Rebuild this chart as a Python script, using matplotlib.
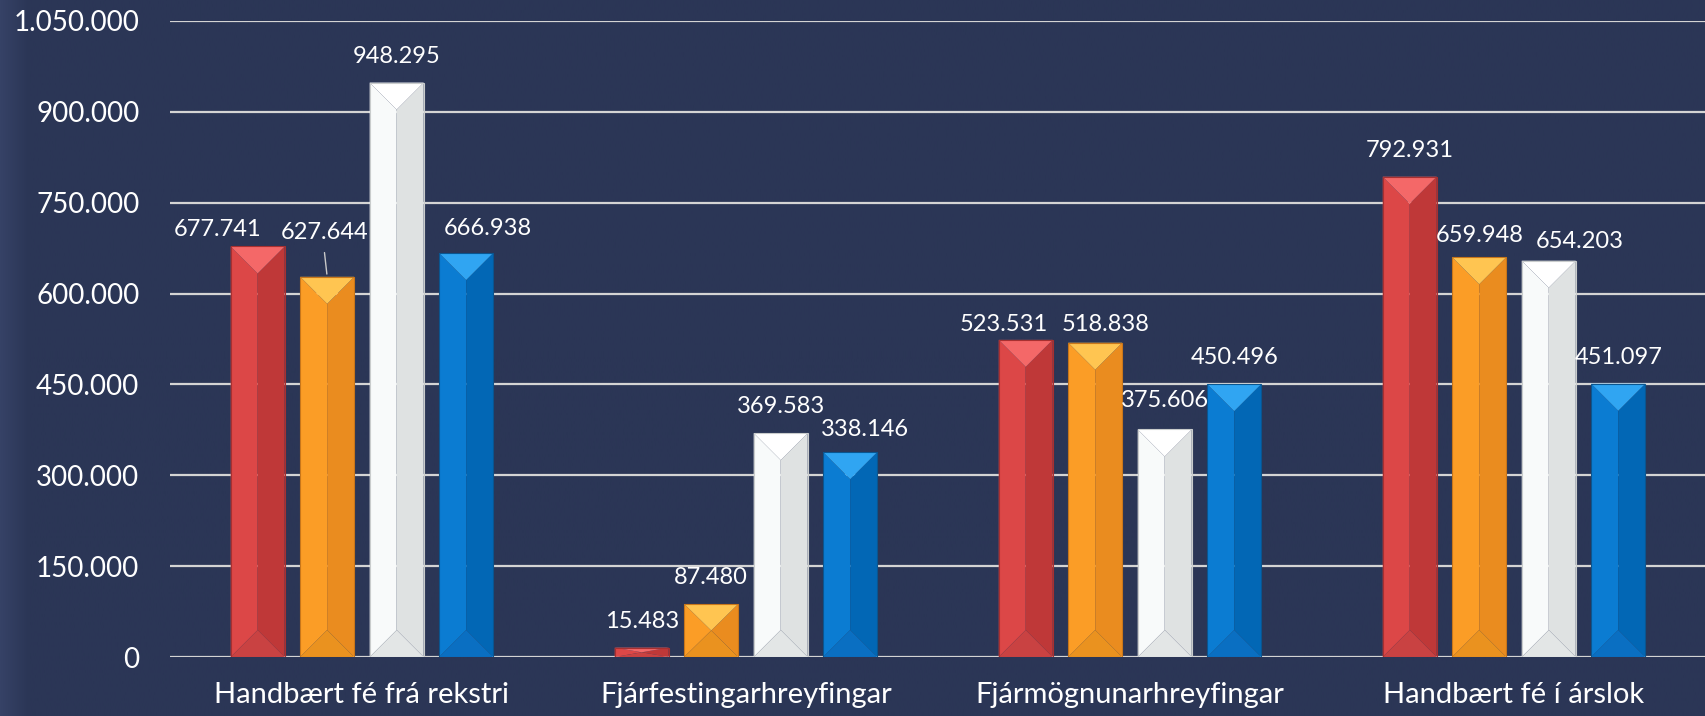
import numpy as np
import matplotlib
matplotlib.use("Agg")
import matplotlib.pyplot as plt
from matplotlib.patches import Polygon
from matplotlib.ticker import FuncFormatter

categories = ["Handbært fé frá rekstri", "Fjárfestingarhreyfingar",
              "Fjármögnunarhreyfingar", "Handbært fé í árslok"]
series_red = [677741, 15483, 523531, 792931]
series_orange = [627644, 87480, 518838, 659948]
series_white = [948295, 369583, 375606, 654203]
series_blue = [666938, 338146, 450496, 451097]
y_ticks = [0, 150000, 300000, 450000, 600000, 750000, 900000, 1050000]

BG = "#2b3656"

# face colours: (left, right, top, bottom)
palettes = [
    ("#dc4747", "#bf3838", "#f46868", "#c94242"),
    ("#fb9d26", "#ea8c1f", "#ffc551", "#ea921f"),
    ("#f8fafa", "#dfe2e2", "#ffffff", "#e3e6e6"),
    ("#0b7cd2", "#0267b5", "#30a5f2", "#0a6fc2"),
]
edges = ["#a83030", "#c8761a", "#c9cccc", "#0a558f"]

# label placement in pixels: (dx, gap above bar top) where it was moved by hand
label_px = {(0, 0): (-40, 10), (1, 0): (-3, 38), (3, 0): (22, 18),
            (3, 1): (15, 16),
            (0, 2): (-22, 9), (1, 2): (10, 12), (2, 2): (0, 22),
            (1, 3): (0, 15), (2, 3): (31, 13)}
PT = 72 / 100  # points per pixel


def fmt(v, _=None):
    return f"{int(v):,}".replace(",", ".")


def bevel(ax, patch, cols, ec):
    x0, w, h = patch.get_x(), patch.get_width(), patch.get_height()
    x1, xc = x0 + w, x0 + w / 2
    # 45 degree bevel: half bar width in pixels, expressed in y data units
    p0 = ax.transData.transform((x0, 0))
    p1 = ax.transData.transform((x1, 0))
    half_px = (p1[0] - p0[0]) / 2
    ypx = ax.transData.transform((0, 1))[1] - ax.transData.transform((0, 0))[1]
    d = min(half_px / ypx, h / 2)
    left, right, top, bottom = cols
    ax.add_patch(Polygon([(x0, 0), (xc, d), (xc, h - d), (x0, h)], closed=True,
                         fc=left, ec="none", zorder=3))
    ax.add_patch(Polygon([(x1, 0), (xc, d), (xc, h - d), (x1, h)], closed=True,
                         fc=right, ec="none", zorder=3))
    ax.add_patch(Polygon([(x0, 0), (x1, 0), (xc, d)], closed=True,
                         fc=bottom, ec="none", zorder=3))
    ax.add_patch(Polygon([(x0, h), (x1, h), (xc, h - d)], closed=True,
                         fc=top, ec="none", zorder=3))
    ax.add_patch(Polygon([(x0, 0), (x1, 0), (x1, h), (x0, h)], closed=True,
                         fc="none", ec=ec, lw=0.8, zorder=3.5))


plt.rcParams["font.family"] = ["Lato", "DejaVu Sans"]

fig = plt.figure(figsize=(17.06, 7.16), dpi=100, facecolor=BG)

# faint lighter strip along the left edge of the slide
bg = fig.add_axes([0, 0, 1, 1], zorder=-10)
grad = np.clip(np.linspace(1, -60, 1000), 0, 1)[None, :]
bg.imshow(grad, aspect="auto", extent=(0, 1, 0, 1),
          cmap=matplotlib.colors.LinearSegmentedColormap.from_list("g", [BG, "#364266"]))
bg.axis("off")

ax = fig.add_axes([0.0996, 0.0824, 0.9004, 0.8883])
ax.set_facecolor("none")

series = [series_red, series_orange, series_white, series_blue]
x = np.arange(len(categories))
step = 0.181
width = 0.1406

ax.set_xlim(-0.5, 3.5)
ax.set_ylim(0, 1050000)

bars = []
for i, vals in enumerate(series):
    b = ax.bar(x + (i - 1.5) * step, vals, width, color="none", zorder=2)
    bars.append(b)

for i, b in enumerate(bars):
    for j, p in enumerate(b.patches):
        bevel(ax, p, palettes[i], edges[i])
        dx, gap = label_px.get((i, j), (0, 20))
        ax.annotate(fmt(series[i][j]), (p.get_x() + p.get_width() / 2, p.get_height()),
                    xytext=(dx * PT, gap * PT), textcoords="offset points",
                    ha="center", va="baseline", color="white", fontsize=17, zorder=5)

# leader line for the moved label
p = bars[1].patches[0]
ax.annotate("", (p.get_x() + p.get_width() / 2, p.get_height()),
            xytext=(-3 * PT, 27 * PT), textcoords="offset points",
            arrowprops=dict(arrowstyle="-", color="#c8c8c8", lw=1), zorder=5)

ax.set_yticks(y_ticks)
ax.yaxis.set_major_formatter(FuncFormatter(fmt))
ax.set_xticks(x)
ax.set_xticklabels(categories)
ax.tick_params(axis="y", length=0, pad=22, labelsize=20, labelcolor="white")
ax.tick_params(axis="x", length=0, pad=18, labelsize=21, labelcolor="white")
ax.grid(axis="y", color="#d4d4d4", lw=1.6, zorder=1)
ax.set_axisbelow(True)
for s in ax.spines.values():
    s.set_visible(False)

fig.savefig("out.png", dpi=100, facecolor=BG)
